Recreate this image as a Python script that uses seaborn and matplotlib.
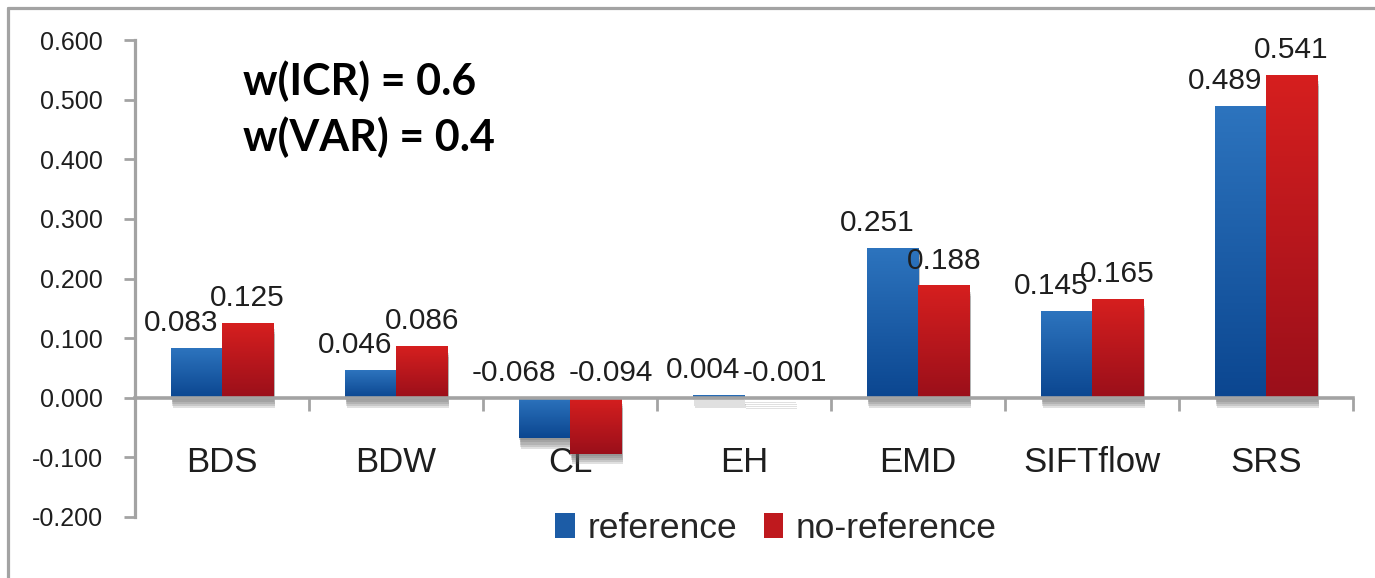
import numpy as np
import pandas as pd
import matplotlib
matplotlib.use("Agg")
import matplotlib.pyplot as plt
import matplotlib.patheffects as pe
from matplotlib.lines import Line2D
from matplotlib.colors import LinearSegmentedColormap
from matplotlib.ticker import FuncFormatter, FixedLocator
import seaborn as sns

# ---- data ----
methods = ["BDS", "BDW", "CL", "EH", "EMD", "SIFTflow", "SRS"]
series_names = ["reference", "no-reference"]
reference_scores = [0.083, 0.046, -0.068, 0.004, 0.251, 0.145, 0.489]
no_reference_scores = [0.125, 0.086, -0.094, -0.001, 0.188, 0.165, 0.541]
y_ticks = [-0.2, -0.1, 0.0, 0.1, 0.2, 0.3, 0.4, 0.5, 0.6]
weight_lines = ["w(ICR) = 0.6", "w(VAR) = 0.4"]

df = pd.DataFrame({
    "method": methods * 2,
    "series": [series_names[0]] * len(methods) + [series_names[1]] * len(methods),
    "score": reference_scores + no_reference_scores,
})
series_values = [reference_scores, no_reference_scores]

sns.set_theme(style="white")
plt.rcParams["font.family"] = ["Liberation Sans", "DejaVu Sans"]

W, H, DPI = 1375, 578, 100
fig = plt.figure(figsize=(W / DPI, H / DPI), dpi=DPI)
fig.patch.set_facecolor("white")
ax = fig.add_axes([135 / W, 1 - 517 / H, (1353 - 135) / W, (517 - 40) / H])

GRAY = "#a3a3a3"
TEXT = "#1e1e1e"
blue_mid, red_mid = "#1c5ca6", "#bf191e"
gradients = [("#2d74be", "#0b4690"), ("#d61f1f", "#9a0f1a")]

sns.barplot(data=df, x="method", y="score", hue="series", order=methods,
            hue_order=series_names, palette=[blue_mid, red_mid], width=0.59,
            gap=0, saturation=1, errorbar=None, linewidth=0, ax=ax)

# vertical gradient fill and a soft, blurred-looking drop shadow on each bar
grad = np.linspace(0, 1, 256).reshape(-1, 1)
shadow = []
for ox, oy in [(0.3, -1.5), (0.6, -3), (0.9, -4.5), (1.2, -6), (1.5, -7.5)]:
    shadow.append(pe.SimplePatchShadow(offset=(ox, oy), shadow_rgbFace="#666666",
                                       alpha=0.2))
shadow.append(pe.Normal())

for i, cont in enumerate(ax.containers):
    cmap = LinearSegmentedColormap.from_list(f"grad{i}", list(gradients[i]))
    for bar in cont:
        x0, w = bar.get_x(), bar.get_width()
        y0, h = bar.get_y(), bar.get_height()
        ylo, yhi = min(y0, y0 + h), max(y0, y0 + h)
        bar.set_linewidth(0)
        bar.set_path_effects(shadow)
        ax.imshow(grad, cmap=cmap, extent=[x0, x0 + w, ylo, yhi], origin="upper",
                  aspect="auto", zorder=bar.get_zorder() + 0.1, interpolation="bilinear")

ax.set_xlim(-0.5, len(methods) - 0.5)
ax.set_ylim(y_ticks[0], y_ticks[-1])
ax.set_xlabel("")
ax.set_ylabel("")

# axes styling
for side in ("top", "right"):
    ax.spines[side].set_visible(False)
ax.spines["left"].set_color(GRAY)
ax.spines["left"].set_linewidth(2.3)
ax.spines["bottom"].set_color(GRAY)
ax.spines["bottom"].set_linewidth(2.6)
ax.spines["bottom"].set_position(("data", 0))
ax.spines["bottom"].set_zorder(5)

ax.yaxis.set_major_locator(FixedLocator(y_ticks))
ax.yaxis.set_major_formatter(FuncFormatter(lambda v, p: f"{v:.3f}"))
ax.tick_params(axis="y", which="major", direction="out", length=8, width=2,
               color=GRAY, labelsize=18, pad=15, left=True, labelcolor=TEXT)

ax.set_xticks(range(len(methods)))
ax.set_xticklabels(methods)
ax.set_xticks(np.arange(0.5, len(methods), 1.0), minor=True)
ax.tick_params(axis="x", which="major", length=0, labelsize=25, pad=35,
               labelcolor=TEXT)
ax.tick_params(axis="x", which="minor", direction="out", length=9.5, width=2,
               color=GRAY, bottom=True)
ax.grid(False)

# value labels: reference labels sit left of centre, and the pair spreads
# further apart when the values carry a minus sign
for i, cont in enumerate(ax.containers):
    for bar, val in zip(cont, series_values[i]):
        spread = 15 if val < 0 else 0
        dx = (-15 - spread) if i == 0 else spread
        ax.annotate(f"{val:.3f}", xy=(bar.get_x() + bar.get_width() / 2, max(val, 0)),
                    xytext=(dx * 0.72, 17 * 0.72), textcoords="offset points",
                    ha="center", va="baseline", fontsize=21.5, color=TEXT,
                    zorder=6)

# weight annotation
for k, line in enumerate(weight_lines):
    fig.text(243 / W, 1 - (95 + 56 * k) / H, line, fontsize=31, fontweight="bold",
             family=["Lato", "DejaVu Sans"], color="black", va="baseline", ha="left")

# legend
sns.move_legend(ax, "center", bbox_to_anchor=(776 / W, 1 - 528 / H),
                bbox_transform=fig.transFigure, ncol=2, frameon=False, title=None,
                fontsize=25.5, handlelength=0.55, handleheight=0.7,
                handletextpad=0.36, columnspacing=0.75)

# outer frame
fig.add_artist(Line2D([8 / W, 8 / W], [0, 1 - 8 / H], color=GRAY, lw=2.3,
                      transform=fig.transFigure))
fig.add_artist(Line2D([8 / W, 1], [1 - 8 / H, 1 - 8 / H], color=GRAY, lw=2.3,
                      transform=fig.transFigure))

fig.savefig("out.png", dpi=DPI, facecolor="white")
